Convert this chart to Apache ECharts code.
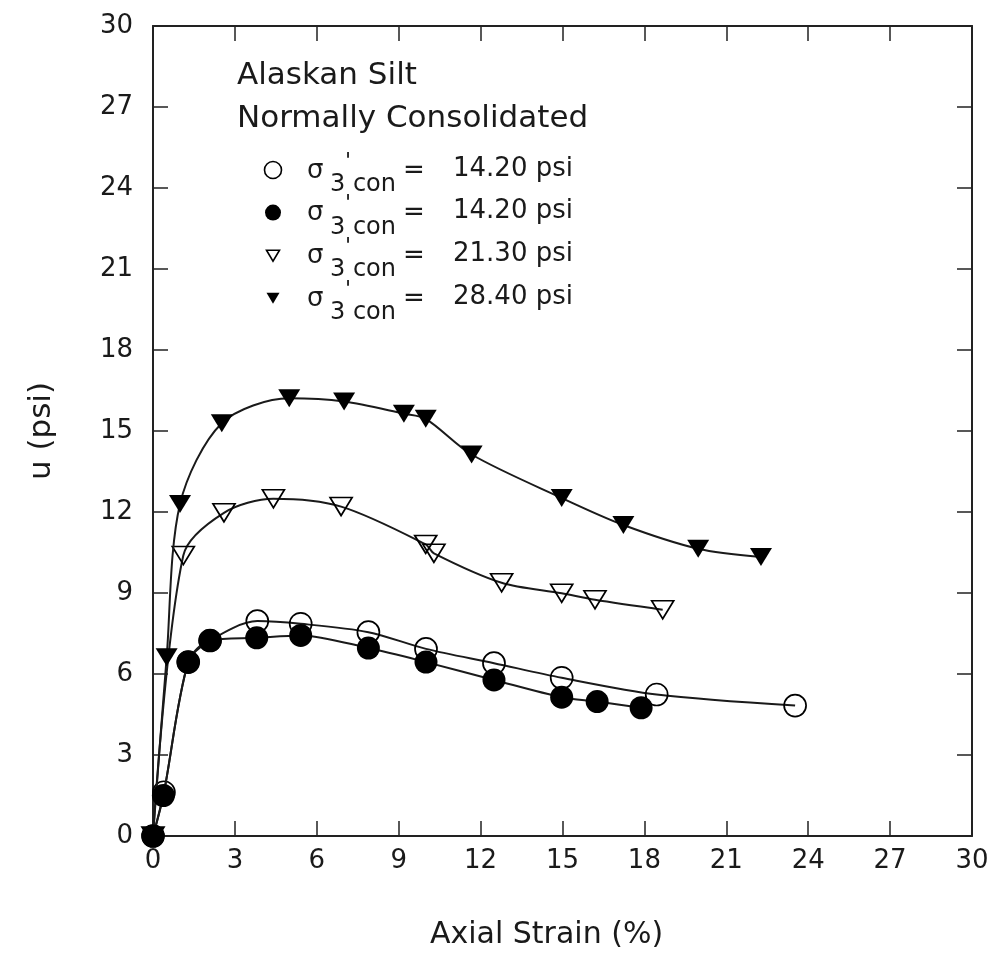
<!DOCTYPE html>
<html>
<head>
<meta charset="utf-8">
<script src="https://cdn.jsdelivr.net/npm/echarts@6/dist/echarts.min.js"></script>
<style>html,body{margin:0;padding:0;background:#fff}#c{width:994px;height:958px}</style>
</head>
<body>
<div id="c"></div>
<script>
// ---- data ----
var xTicks = [0, 3, 6, 9, 12, 15, 18, 21, 24, 27, 30];
var yTicks = [0, 3, 6, 9, 12, 15, 18, 21, 24, 27, 30];

var strainOpen1420 = [0, 0.40, 1.29, 2.09, 3.82, 5.41, 7.89, 10.0, 12.49, 14.97, 18.45, 23.52];
var uOpen1420      = [0, 1.62, 6.44, 7.24, 7.96, 7.86, 7.55, 6.93, 6.40, 5.86, 5.24, 4.83];

var strainFilled1420 = [0, 0.38, 1.29, 2.09, 3.80, 5.41, 7.89, 10.0, 12.49, 14.97, 16.27, 17.88];
var uFilled1420      = [0, 1.50, 6.44, 7.24, 7.34, 7.43, 6.96, 6.44, 5.78, 5.14, 4.98, 4.75];

var strainOpen2130 = [0, 1.11, 2.60, 4.41, 6.89, 9.99, 10.29, 12.77, 14.97, 16.19, 18.67];
var uOpen2130      = [0, 10.39, 11.97, 12.49, 12.20, 10.80, 10.47, 9.38, 8.99, 8.75, 8.38];

var strainFilled2840 = [0, 0.50, 0.99, 2.52, 4.99, 7.00, 9.19, 9.99, 11.67, 14.97, 17.23, 19.97, 22.27];
var uFilled2840      = [0, 6.62, 12.30, 15.29, 16.21, 16.09, 15.64, 15.45, 14.13, 12.52, 11.52, 10.64, 10.33];

var titleLines = ['Alaskan Silt', 'Normally Consolidated'];
var legendValues = ['14.20 psi', '14.20 psi', '21.30 psi', '28.40 psi'];
var legendKinds = ['openCircle', 'filledCircle', 'openTri', 'filledTri'];

// ---- build ----
function pairs(xs, ys) { return xs.map(function (x, i) { return [x, ys[i]]; }); }
var FONT = "'DejaVu Sans', sans-serif";
var INK = '#1a1a1a';

function mkSeries(name, xs, ys, kind) {
  var filled = kind.indexOf('filled') === 0;
  var tri = kind.indexOf('Tri') > 0;
  return {
    name: name, type: 'line', data: pairs(xs, ys),
    smooth: 0.3, clip: false,
    symbol: tri ? 'triangle' : 'circle',
    symbolRotate: tri ? 180 : 0,
    symbolSize: tri ? [22, 18] : (filled ? 23 : 22),
    lineStyle: { color: INK, width: 2 },
    itemStyle: { color: filled ? '#000' : 'rgba(0,0,0,0)', borderColor: '#000', borderWidth: filled ? 0 : 1.7 },
    emphasis: { disabled: true },
    z: filled ? 3 : 2
  };
}

var graphics = [];
titleLines.forEach(function (t, i) {
  graphics.push({ type: 'text', left: 237, top: [67, 110][i] - 7,
    style: { text: t, font: '31px ' + FONT, fill: INK } });
});
legendValues.forEach(function (v, i) {
  var cy = 170 + 42.6 * i;
  var k = legendKinds[i];
  if (k === 'openCircle') graphics.push({ type: 'circle', shape: { cx: 273, cy: cy, r: 8.5 }, style: { fill: 'none', stroke: '#000', lineWidth: 1.6 } });
  if (k === 'filledCircle') graphics.push({ type: 'circle', shape: { cx: 273, cy: cy, r: 8 }, style: { fill: '#000' } });
  if (k === 'openTri' || k === 'filledTri') graphics.push({ type: 'polygon',
    shape: { points: [[266.5, cy - 5], [279.5, cy - 5], [273, cy + 6]] },
    style: k === 'openTri' ? { fill: 'none', stroke: '#000', lineWidth: 1.6 } : { fill: '#000' } });
  graphics.push({ type: 'text', x: 307, y: cy + 1, style: { text: 'σ', font: '26px ' + FONT, fill: INK, textVerticalAlign: 'middle' } });
  graphics.push({ type: 'text', x: 345, y: cy - 8, style: { text: "'", font: '22px ' + FONT, fill: INK, textVerticalAlign: 'middle' } });
  graphics.push({ type: 'text', x: 330, y: cy + 15, style: { text: '3 con', font: '24px ' + FONT, fill: INK, textVerticalAlign: 'middle' } });
  graphics.push({ type: 'text', x: 403, y: cy + 1, style: { text: '=', font: '26px ' + FONT, fill: INK, textVerticalAlign: 'middle' } });
  graphics.push({ type: 'text', x: 453, y: cy - 1, style: { text: v, font: '26px ' + FONT, fill: INK, textVerticalAlign: 'middle' } });
});

var axisCommon = {
  type: 'value', min: 0, max: 30, interval: 3,
  axisLine: { show: true, onZero: false, lineStyle: { color: '#222', width: 2 } },
  axisTick: { show: true, inside: true, length: 15, lineStyle: { color: '#222', width: 1.5 } },
  splitLine: { show: false }
};
function ax(extra) { return Object.assign({}, JSON.parse(JSON.stringify(axisCommon)), extra); }

var chart = echarts.init(document.getElementById('c'), null, { renderer: 'canvas' });
chart.setOption({
  backgroundColor: '#fff',
  animation: false,
  grid: { left: 153, top: 26, right: 22, bottom: 122 },
  xAxis: [
    ax({ position: 'bottom', name: 'Axial Strain (%)', nameLocation: 'middle', nameGap: 84,
      nameTextStyle: { fontFamily: FONT, fontSize: 30, color: INK, padding: [0, 32, 0, 0] },
      axisLabel: { margin: 12, fontFamily: FONT, fontSize: 26, color: INK,
        formatter: function (v) { return xTicks.indexOf(v) >= 0 ? String(v) : ''; } } }),
    ax({ position: 'top', axisLabel: { show: false } })
  ],
  yAxis: [
    ax({ position: 'left', name: 'u (psi)', nameLocation: 'middle', nameGap: 96,
      nameTextStyle: { fontFamily: FONT, fontSize: 31, color: INK },
      axisLabel: { margin: 20, fontFamily: FONT, fontSize: 26, color: INK,
        formatter: function (v) { return yTicks.indexOf(v) >= 0 ? String(v) : ''; } } }),
    ax({ position: 'right', axisLabel: { show: false } })
  ],
  series: [
    mkSeries('open 14.20', strainOpen1420, uOpen1420, 'openCircle'),
    mkSeries('open 21.30', strainOpen2130, uOpen2130, 'openTri'),
    mkSeries('filled 28.40', strainFilled2840, uFilled2840, 'filledTri'),
    mkSeries('filled 14.20', strainFilled1420, uFilled1420, 'filledCircle')
  ],
  graphic: graphics
});
</script>
</body>
</html>
